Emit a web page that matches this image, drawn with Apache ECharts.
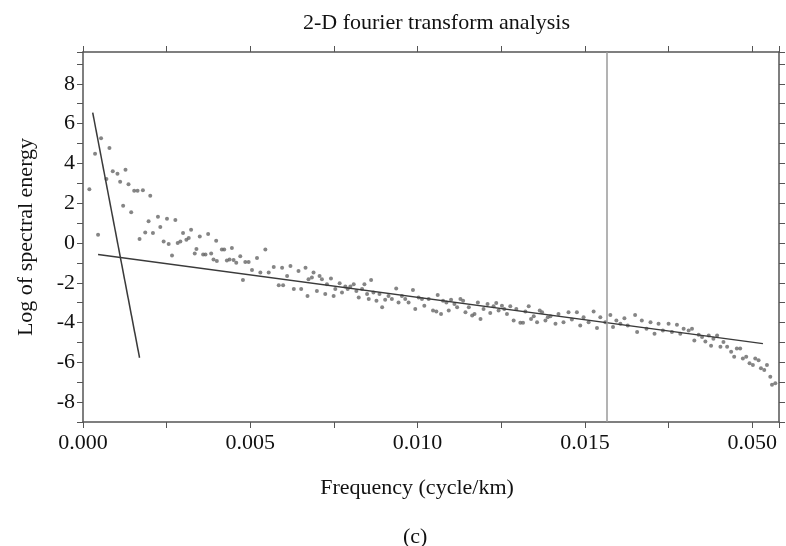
<!DOCTYPE html>
<html>
<head>
<meta charset="utf-8">
<script src="https://cdn.jsdelivr.net/npm/echarts@6/dist/echarts.min.js"></script>
<style>html,body{margin:0;padding:0;background:#fff}#c{width:786px;height:546px}</style>
</head>
<body>
<div id="c"></div>
<script>
// Frequency (cycle/km) values of the scatter points
const freq = [
0.00019,0.00036,0.00045,0.00054,0.0007,0.00079,0.00089,0.00103,0.00111,0.0012,
0.00127,0.00136,0.00144,0.00153,0.00163,0.00169,0.00179,0.00186,0.00196,0.00201,
0.00209,0.00224,0.00231,0.00241,0.00251,0.00256,0.00266,0.00276,0.00283,0.00291,
0.00299,0.00309,0.00316,0.00323,0.00334,0.00339,0.00349,0.00359,0.00366,0.00374,
0.00383,0.0039,0.00398,0.004,0.00415,0.00422,0.0043,0.00438,0.00445,0.0045,
0.00458,0.0047,0.00478,0.00485,0.00495,0.00505,0.0052,0.0053,0.00545,0.00555,
0.0057,0.00585,0.00595,0.00598,0.0061,0.0062,0.0063,0.00644,0.00652,0.00665,
0.00671,0.00674,0.00684,0.00689,0.00699,0.00707,0.00714,0.00724,0.00729,0.00741,
0.00749,0.00754,0.00767,0.00774,0.00784,0.00791,0.00799,0.00809,0.00817,0.00824,
0.00834,0.00841,0.00849,0.00854,0.00861,0.00868,0.00877,0.00886,0.00894,0.00903,
0.00913,0.00923,0.00936,0.00943,0.00953,0.00963,0.00973,0.00986,0.00993,0.01003,
0.01013,0.0102,0.01033,0.01046,0.01056,0.0106,0.0107,0.01076,0.01086,0.01093,
0.011,0.0111,0.01118,0.01128,0.01136,0.01143,0.01153,0.01163,0.0117,0.0118,
0.01188,0.01197,0.01209,0.01217,0.01227,0.01235,0.01242,0.01252,0.01259,0.01267,
0.01277,0.01287,0.01295,0.01307,0.01315,0.01322,0.01332,0.01339,0.01347,0.01357,
0.01365,0.01372,0.01382,0.01389,0.01397,0.01412,0.01421,0.01436,0.01451,0.01461,
0.01476,0.01486,0.01496,0.01511,0.01526,0.01536,0.01546,0.01561,0.01576,0.01584,
0.01594,0.01606,0.01618,0.01628,0.0165,0.01656,0.0167,0.01684,0.01696,0.01708,
0.0172,0.01733,0.0175,0.0176,0.01775,0.01785,0.01795,0.0181,0.0182,0.01827,
0.0184,0.0185,0.0186,0.0187,0.01877,0.01884,0.01895,0.01905,0.01914,0.01925,
0.01937,0.01946,0.01954,0.01964,0.01972,0.01982,0.01992,0.02002,0.02009,0.02019,
0.02026,0.02036,0.02044,0.02054,0.02059,0.02069
];
// Log of spectral energy for each point
const energy = [
2.7,4.48,0.41,5.27,3.21,4.78,3.6,3.48,3.08,1.87,
3.68,2.95,1.54,2.62,2.62,0.2,2.65,0.53,1.09,2.37,
0.5,1.32,0.8,0.08,1.22,-0.05,-0.63,1.16,0,0.08,
0.5,0.16,0.25,0.66,-0.53,-0.3,0.33,-0.58,-0.58,0.45,
-0.53,-0.83,0.11,-0.91,-0.33,-0.33,-0.88,-0.83,-0.25,-0.86,
-1.0,-0.67,-1.86,-0.96,-0.96,-1.36,-0.75,-1.49,-0.33,-1.49,
-1.21,-2.12,-1.24,-2.12,-1.66,-1.16,-2.32,-1.41,-2.32,-1.24,
-2.66,-1.83,-1.74,-1.49,-2.41,-1.66,-1.83,-2.57,-2.07,-1.79,
-2.66,-2.32,-2.02,-2.49,-2.19,-2.32,-2.19,-2.07,-2.41,-2.74,
-2.32,-2.07,-2.57,-2.82,-1.86,-2.49,-2.9,-2.57,-3.23,-2.86,
-2.66,-2.82,-2.29,-2.99,-2.66,-2.82,-2.99,-2.37,-3.32,-2.74,
-2.82,-3.15,-2.82,-3.4,-3.45,-2.62,-3.57,-2.9,-2.99,-3.4,
-2.86,-3.07,-3.23,-2.82,-2.9,-3.48,-3.23,-3.65,-3.57,-2.99,
-3.82,-3.32,-3.07,-3.52,-3.18,-3.02,-3.4,-3.15,-3.32,-3.57,
-3.18,-3.9,-3.32,-4.01,-4.01,-3.45,-3.18,-3.82,-3.68,-3.98,
-3.4,-3.48,-3.9,-3.73,-3.68,-4.06,-3.57,-3.98,-3.48,-3.85,
-3.48,-4.15,-3.73,-3.98,-3.45,-4.28,-3.73,-3.98,-3.62,-4.23,
-3.9,-4.06,-3.78,-4.15,-3.62,-4.48,-3.9,-4.31,-3.98,-4.56,
-4.06,-4.4,-4.06,-4.48,-4.11,-4.56,-4.31,-4.4,-4.31,-4.9,
-4.61,-4.73,-4.95,-4.65,-5.17,-4.81,-4.65,-5.22,-4.98,-5.22,
-5.47,-5.72,-5.31,-5.31,-5.81,-5.72,-6.05,-6.14,-5.81,-5.89,
-6.3,-6.39,-6.14,-6.72,-7.13,-7.05
];
// Fitted straight lines: [frequency, log energy] end points
const deepFit = [[0.00029, 6.55], [0.00169, -5.77]];
const shallowFit = [[0.00045, -0.58], [0.02032, -5.06]];
// Cut-off frequency marker
const cutoff = 0.01566;
// Tick labels on the frequency axis (as printed)
const xTickValues = [0, 0.005, 0.010, 0.015, 0.020];
const xTickLabels = ['0.000', '0.005', '0.010', '0.015', '0.050'];

const points = freq.map((f, i) => [f, energy[i]]);
const FONT = '"Liberation Serif", "Times New Roman", serif';
const axisColor = '#555';

const chart = echarts.init(document.getElementById('c'));
const xCommon = {
  type: 'value', min: 0, max: 0.0208, interval: 0.0025,
  axisLine: { show: true, onZero: false, lineStyle: { color: axisColor, width: 1.5 } },
  axisTick: { show: true, length: 6, lineStyle: { color: axisColor, width: 1 } },
  splitLine: { show: false }
};
const yCommon = {
  type: 'value', min: -9, max: 9.6, interval: 1,
  axisLine: { show: true, onZero: false, lineStyle: { color: axisColor, width: 1.5 } },
  axisTick: { show: true, length: 6, lineStyle: { color: axisColor, width: 1 } },
  splitLine: { show: false }
};
chart.setOption({
  animation: false,
  backgroundColor: '#fff',
  title: [
    { text: '2-D fourier transform analysis', left: 298, top: 7,
      textStyle: { fontFamily: FONT, fontSize: 22, fontWeight: 'normal', color: '#111' } },
    { text: '(c)', left: 398, top: 521,
      textStyle: { fontFamily: FONT, fontSize: 22, fontWeight: 'normal', color: '#111' } }
  ],
  grid: { left: 83, right: 7, top: 52, bottom: 124, containLabel: false },
  xAxis: [
    Object.assign({}, xCommon, {
      position: 'bottom',
      name: 'Frequency (cycle/km)', nameLocation: 'middle', nameGap: 55,
      nameTextStyle: { fontFamily: FONT, fontSize: 22, color: '#111', padding: [0, 28, 0, 0] },
      axisLabel: {
        show: true, margin: 10, fontFamily: FONT, fontSize: 22, color: '#111',
        formatter: function (v) {
          for (let i = 0; i < xTickValues.length; i++) {
            if (Math.abs(v - xTickValues[i]) < 1e-9) return xTickLabels[i];
          }
          return '';
        }
      }
    }),
    Object.assign({}, xCommon, { position: 'top', axisLabel: { show: false } })
  ],
  yAxis: [
    Object.assign({}, yCommon, {
      position: 'left',
      name: 'Log of spectral energy', nameLocation: 'middle', nameGap: 46,
      nameTextStyle: { fontFamily: FONT, fontSize: 22, color: '#111' },
      axisLabel: {
        show: true, margin: 8, fontFamily: FONT, fontSize: 22, color: '#111',
        formatter: function (v) {
          return (Math.abs(v % 2) < 1e-9) ? String(v) : '';
        }
      }
    }),
    Object.assign({}, yCommon, { position: 'right', axisLabel: { show: false } })
  ],
  series: [
    {
      type: 'scatter', data: points, symbol: 'circle', symbolSize: 4,
      itemStyle: { color: '#666' },
      markLine: {
        silent: true, symbol: 'none', precision: 6, label: { show: false },
        lineStyle: { color: '#9a9a9a', width: 1.5, type: 'solid' },
        data: [{ xAxis: cutoff }]
      }
    },
    {
      type: 'line', data: deepFit, showSymbol: false, symbol: 'none',
      lineStyle: { color: '#3a3a3a', width: 1.5 }
    },
    {
      type: 'line', data: shallowFit, showSymbol: false, symbol: 'none',
      lineStyle: { color: '#3a3a3a', width: 1.5 }
    }
  ]
});
</script>
</body>
</html>
